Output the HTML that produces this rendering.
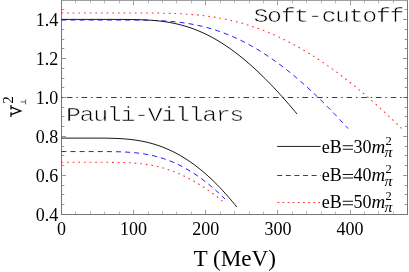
<!DOCTYPE html>
<html><head><meta charset="utf-8"><title>plot</title>
<style>
html,body{margin:0;padding:0;background:#fff;}
body{width:409px;height:272px;overflow:hidden;font-family:"Liberation Serif",serif;}
svg{display:block;will-change:transform;}
text{font-family:"Liberation Serif",serif;fill:#000;}
.mono{font-family:"Liberation Mono",monospace;}
</style></head><body>
<svg width="409" height="272" viewBox="0 0 409 272">
<rect x="0" y="0" width="409" height="272" fill="#fff"/>
<g stroke="#959595" stroke-width="1" fill="none">
<path stroke="#b4b4b4" d="M75.50,214.5 v-2.8 M75.50,0.5 v2.8"/>
<path stroke="#b4b4b4" d="M90.50,214.5 v-2.8 M90.50,0.5 v2.8"/>
<path stroke="#b4b4b4" d="M104.50,214.5 v-2.8 M104.50,0.5 v2.8"/>
<path stroke="#b4b4b4" d="M119.50,214.5 v-2.8 M119.50,0.5 v2.8"/>
<path stroke="#b4b4b4" d="M148.50,214.5 v-2.8 M148.50,0.5 v2.8"/>
<path stroke="#b4b4b4" d="M162.50,214.5 v-2.8 M162.50,0.5 v2.8"/>
<path stroke="#b4b4b4" d="M176.50,214.5 v-2.8 M176.50,0.5 v2.8"/>
<path stroke="#b4b4b4" d="M191.50,214.5 v-2.8 M191.50,0.5 v2.8"/>
<path stroke="#b4b4b4" d="M220.50,214.5 v-2.8 M220.50,0.5 v2.8"/>
<path stroke="#b4b4b4" d="M234.50,214.5 v-2.8 M234.50,0.5 v2.8"/>
<path stroke="#b4b4b4" d="M249.50,214.5 v-2.8 M249.50,0.5 v2.8"/>
<path stroke="#b4b4b4" d="M263.50,214.5 v-2.8 M263.50,0.5 v2.8"/>
<path stroke="#b4b4b4" d="M292.50,214.5 v-2.8 M292.50,0.5 v2.8"/>
<path stroke="#b4b4b4" d="M306.50,214.5 v-2.8 M306.50,0.5 v2.8"/>
<path stroke="#b4b4b4" d="M321.50,214.5 v-2.8 M321.50,0.5 v2.8"/>
<path stroke="#b4b4b4" d="M335.50,214.5 v-2.8 M335.50,0.5 v2.8"/>
<path stroke="#b4b4b4" d="M364.50,214.5 v-2.8 M364.50,0.5 v2.8"/>
<path stroke="#b4b4b4" d="M378.50,214.5 v-2.8 M378.50,0.5 v2.8"/>
<path stroke="#b4b4b4" d="M393.50,214.5 v-2.8 M393.50,0.5 v2.8"/>
<path d="M61.5,204.50 h2.8 M407.5,204.50 h-2.8"/>
<path d="M61.5,194.50 h2.8 M407.5,194.50 h-2.8"/>
<path d="M61.5,185.50 h2.8 M407.5,185.50 h-2.8"/>
<path d="M61.5,165.50 h2.8 M407.5,165.50 h-2.8"/>
<path d="M61.5,155.50 h2.8 M407.5,155.50 h-2.8"/>
<path d="M61.5,146.50 h2.8 M407.5,146.50 h-2.8"/>
<path d="M61.5,126.50 h2.8 M407.5,126.50 h-2.8"/>
<path d="M61.5,116.50 h2.8 M407.5,116.50 h-2.8"/>
<path d="M61.5,107.50 h2.8 M407.5,107.50 h-2.8"/>
<path d="M61.5,87.50 h2.8 M407.5,87.50 h-2.8"/>
<path d="M61.5,78.50 h2.8 M407.5,78.50 h-2.8"/>
<path d="M61.5,68.50 h2.8 M407.5,68.50 h-2.8"/>
<path d="M61.5,48.50 h2.8 M407.5,48.50 h-2.8"/>
<path d="M61.5,39.50 h2.8 M407.5,39.50 h-2.8"/>
<path d="M61.5,29.50 h2.8 M407.5,29.50 h-2.8"/>
<path d="M61.5,9.50 h2.8 M407.5,9.50 h-2.8"/>
</g>
<g stroke="#949494" stroke-width="1" fill="none">
<path stroke="#9c9c9c" d="M61.50,214.5 v-4.6 M61.50,0.5 v4.8"/>
<path stroke="#9c9c9c" d="M133.50,214.5 v-4.6 M133.50,0.5 v4.8"/>
<path stroke="#9c9c9c" d="M205.50,214.5 v-4.6 M205.50,0.5 v4.8"/>
<path stroke="#9c9c9c" d="M277.50,214.5 v-4.6 M277.50,0.5 v4.8"/>
<path stroke="#9c9c9c" d="M350.50,214.5 v-4.6 M350.50,0.5 v4.8"/>
<path d="M61.5,214.50 h4.5 M407.5,214.50 h-4.5"/>
<path d="M61.5,175.50 h4.5 M407.5,175.50 h-4.5"/>
<path d="M61.5,136.50 h4.5 M407.5,136.50 h-4.5"/>
<path d="M61.5,97.50 h4.5 M407.5,97.50 h-4.5"/>
<path d="M61.5,58.50 h4.5 M407.5,58.50 h-4.5"/>
<path d="M61.5,19.50 h4.5 M407.5,19.50 h-4.5"/>
</g>
<path d="M61.0,0.5 H408.0" fill="none" stroke="#a0a0a0" stroke-width="1"/>
<path d="M61.5,0.5 V215.0 M407.5,0.5 V215.0 M61.0,214.5 H408.0" fill="none" stroke="#787878" stroke-width="1"/>
<path d="M61.55,97.50 H407.5" stroke="#3c3c3c" stroke-width="1" fill="none" stroke-dasharray="1.5 3.86 5.5 3.86"/>
<path d="M61.4,12.94 L100.0,12.94 L103.0,12.94 L106.0,12.94 L109.0,12.94 L112.0,12.94 L115.0,12.94 L118.0,12.94 L121.0,12.94 L124.0,12.94 L127.0,12.95 L130.0,12.95 L133.0,12.95 L136.0,12.96 L139.0,12.96 L142.0,12.97 L145.0,12.98 L148.0,13.00 L151.0,13.02 L154.0,13.05 L157.0,13.09 L160.0,13.13 L163.0,13.19 L166.0,13.25 L169.0,13.33 L172.0,13.43 L175.0,13.54 L178.0,13.66 L181.0,13.81 L184.0,13.98 L187.0,14.17 L190.0,14.38 L193.0,14.62 L196.0,14.89 L199.0,15.18 L202.0,15.50 L205.0,15.86 L208.0,16.25 L211.0,16.67 L214.0,17.13 L217.0,17.62 L220.0,18.15 L223.0,18.72 L226.0,19.33 L229.0,19.97 L232.0,20.66 L235.0,21.39 L238.0,22.16 L241.0,22.98 L244.0,23.83 L247.0,24.73 L250.0,25.68 L253.0,26.67 L256.0,27.70 L259.0,28.78 L262.0,29.90 L265.0,31.07 L268.0,32.29 L271.0,33.55 L274.0,34.85 L277.0,36.20 L280.0,37.60 L283.0,39.04 L286.0,40.52 L289.0,42.05 L292.0,43.63 L295.0,45.25 L298.0,46.91 L301.0,48.62 L304.0,50.37 L307.0,52.17 L310.0,54.00 L313.0,55.88 L316.0,57.80 L319.0,59.77 L322.0,61.77 L325.0,63.82 L328.0,65.90 L331.0,68.03 L334.0,70.19 L337.0,72.40 L340.0,74.64 L343.0,76.92 L346.0,79.24 L349.0,81.60 L352.0,83.99 L355.0,86.42 L358.0,88.88 L361.0,91.38 L364.0,93.91 L367.0,96.48 L370.0,99.08 L373.0,101.72 L376.0,104.38 L379.0,107.08 L382.0,109.81 L385.0,112.57 L388.0,115.36 L391.0,118.19 L394.0,121.04 L397.0,123.92 L400.0,126.83 L401.6,128.44" fill="none" stroke="#ff3030" stroke-width="1.05" stroke-dasharray="1.7 3.951"/>
<path d="M61.4,20.03 L100.0,20.03 L103.0,20.03 L106.0,20.03 L109.0,20.03 L112.0,20.03 L115.0,20.03 L118.0,20.03 L121.0,20.03 L124.0,20.04 L127.0,20.04 L130.0,20.05 L133.0,20.07 L136.0,20.09 L139.0,20.12 L142.0,20.15 L145.0,20.20 L148.0,20.27 L151.0,20.34 L154.0,20.44 L157.0,20.55 L160.0,20.69 L163.0,20.85 L166.0,21.04 L169.0,21.26 L172.0,21.52 L175.0,21.80 L178.0,22.13 L181.0,22.49 L184.0,22.89 L187.0,23.34 L190.0,23.84 L193.0,24.38 L196.0,24.96 L199.0,25.60 L202.0,26.30 L205.0,27.04 L208.0,27.84 L211.0,28.69 L214.0,29.61 L217.0,30.57 L220.0,31.60 L223.0,32.69 L226.0,33.83 L229.0,35.03 L232.0,36.30 L235.0,37.62 L238.0,39.01 L241.0,40.45 L244.0,41.96 L247.0,43.53 L250.0,45.16 L253.0,46.84 L256.0,48.59 L259.0,50.40 L262.0,52.27 L265.0,54.19 L268.0,56.18 L271.0,58.22 L274.0,60.32 L277.0,62.48 L280.0,64.69 L283.0,66.96 L286.0,69.28 L289.0,71.66 L292.0,74.10 L295.0,76.58 L298.0,79.12 L301.0,81.71 L304.0,84.36 L307.0,87.05 L310.0,89.79 L313.0,92.58 L316.0,95.42 L319.0,98.30 L322.0,101.24 L325.0,104.21 L328.0,107.24 L331.0,110.30 L334.0,113.41 L337.0,116.57 L340.0,119.76 L343.0,123.00 L346.0,126.27 L348.1,128.59" fill="none" stroke="#2020ff" stroke-width="1.0" stroke-dasharray="5 4.1"/>
<path d="M61.4,19.40 L100.0,19.40 L103.0,19.40 L106.0,19.40 L109.0,19.40 L112.0,19.40 L115.0,19.41 L118.0,19.41 L121.0,19.42 L124.0,19.43 L127.0,19.46 L130.0,19.49 L133.0,19.53 L136.0,19.59 L139.0,19.67 L142.0,19.77 L145.0,19.90 L148.0,20.06 L151.0,20.25 L154.0,20.48 L157.0,20.76 L160.0,21.08 L163.0,21.45 L166.0,21.88 L169.0,22.37 L172.0,22.92 L175.0,23.53 L178.0,24.22 L181.0,24.97 L184.0,25.79 L187.0,26.69 L190.0,27.67 L193.0,28.73 L196.0,29.87 L199.0,31.09 L202.0,32.39 L205.0,33.77 L208.0,35.24 L211.0,36.79 L214.0,38.43 L217.0,40.15 L220.0,41.95 L223.0,43.84 L226.0,45.81 L229.0,47.86 L232.0,50.00 L235.0,52.22 L238.0,54.51 L241.0,56.88 L244.0,59.34 L247.0,61.86 L250.0,64.47 L253.0,67.15 L256.0,69.90 L259.0,72.72 L262.0,75.61 L265.0,78.57 L268.0,81.59 L271.0,84.68 L274.0,87.84 L277.0,91.05 L280.0,94.33 L283.0,97.67 L286.0,101.06 L289.0,104.51 L292.0,108.02 L295.0,111.58 L297.0,113.98" fill="none" stroke="#1a1a1a" stroke-width="1.0"/>
<path d="M61.4,162.33 L100.0,162.33 L103.0,162.33 L106.0,162.34 L109.0,162.35 L112.0,162.37 L115.0,162.39 L118.0,162.44 L121.0,162.50 L124.0,162.58 L127.0,162.69 L130.0,162.84 L133.0,163.02 L136.0,163.25 L139.0,163.53 L142.0,163.86 L145.0,164.24 L148.0,164.69 L151.0,165.21 L154.0,165.80 L157.0,166.46 L160.0,167.19 L163.0,168.01 L166.0,168.90 L169.0,169.88 L172.0,170.94 L175.0,172.08 L178.0,173.31 L181.0,174.62 L184.0,176.02 L187.0,177.50 L190.0,179.06 L193.0,180.71 L196.0,182.44 L199.0,184.25 L202.0,186.15 L205.0,188.12 L208.0,190.17 L211.0,192.30 L214.0,194.50 L217.0,196.78 L220.0,199.13 L222.5,201.14" fill="none" stroke="#ff3030" stroke-width="1.05" stroke-dasharray="1.7 3.932"/>
<path d="M61.4,151.56 L100.0,151.57 L103.0,151.58 L106.0,151.59 L109.0,151.61 L112.0,151.64 L115.0,151.69 L118.0,151.76 L121.0,151.85 L124.0,151.97 L127.0,152.13 L130.0,152.32 L133.0,152.56 L136.0,152.85 L139.0,153.20 L142.0,153.60 L145.0,154.07 L148.0,154.60 L151.0,155.21 L154.0,155.90 L157.0,156.66 L160.0,157.51 L163.0,158.44 L166.0,159.46 L169.0,160.57 L172.0,161.77 L175.0,163.06 L178.0,164.45 L181.0,165.93 L184.0,167.51 L187.0,169.19 L190.0,170.97 L193.0,172.85 L196.0,174.82 L199.0,176.90 L202.0,179.07 L205.0,181.34 L208.0,183.72 L211.0,186.19 L214.0,188.76 L217.0,191.43 L220.0,194.19 L223.0,197.05 L225.0,199.02" fill="none" stroke="#2020ff" stroke-width="1.0" stroke-dasharray="5 4.1"/>
<path d="M61.4,138.10 L100.0,138.12 L103.0,138.14 L106.0,138.17 L109.0,138.22 L112.0,138.29 L115.0,138.39 L118.0,138.51 L121.0,138.67 L124.0,138.87 L127.0,139.12 L130.0,139.42 L133.0,139.77 L136.0,140.18 L139.0,140.66 L142.0,141.20 L145.0,141.82 L148.0,142.51 L151.0,143.29 L154.0,144.14 L157.0,145.08 L160.0,146.11 L163.0,147.23 L166.0,148.44 L169.0,149.75 L172.0,151.15 L175.0,152.65 L178.0,154.26 L181.0,155.96 L184.0,157.77 L187.0,159.67 L190.0,161.69 L193.0,163.81 L196.0,166.03 L199.0,168.36 L202.0,170.80 L205.0,173.35 L208.0,176.01 L211.0,178.77 L214.0,181.64 L217.0,184.62 L220.0,187.71 L223.0,190.91 L226.0,194.22 L229.0,197.63 L232.0,201.16 L235.0,204.80 L236.8,207.03" fill="none" stroke="#1a1a1a" stroke-width="1.0"/>
<path d="M277.1,146.45 H320.6" fill="none" stroke="#1a1a1a" stroke-width="0.95"/>
<path d="M277.2,175.5 H320.6" fill="none" stroke="#2020ff" stroke-width="0.95" stroke-dasharray="5 3.6"/>
<path d="M277.5,202.5 H320.2" fill="none" stroke="#ff3030" stroke-width="1.05" stroke-dasharray="1.7 3.4"/>
<text x="321.8" y="152.5" font-size="18">eB</text>
<path d="M342.7,145.65 H353 M342.7,149.15 H353" stroke="#111" stroke-width="1.05" fill="none"/>
<text x="353.4" y="152.5" font-size="18">30</text>
<text x="371.5" y="152.5" font-size="19" font-style="italic">m</text>
<text x="385.6" y="144.50" font-size="12.5">2</text>
<text x="0" y="0" font-size="14" font-style="italic" transform="translate(384.5,156.70) scale(1.13,1)">π</text>
<text x="321.8" y="181.4" font-size="18">eB</text>
<path d="M342.7,174.55 H353 M342.7,178.05 H353" stroke="#111" stroke-width="1.05" fill="none"/>
<text x="353.4" y="181.4" font-size="18">40</text>
<text x="371.5" y="181.4" font-size="19" font-style="italic">m</text>
<text x="385.6" y="173.40" font-size="12.5">2</text>
<text x="0" y="0" font-size="14" font-style="italic" transform="translate(384.5,185.60) scale(1.13,1)">π</text>
<text x="321.8" y="208.1" font-size="18">eB</text>
<path d="M342.7,201.25 H353 M342.7,204.75 H353" stroke="#111" stroke-width="1.05" fill="none"/>
<text x="353.4" y="208.1" font-size="18">50</text>
<text x="371.5" y="208.1" font-size="19" font-style="italic">m</text>
<text x="385.6" y="200.10" font-size="12.5">2</text>
<text x="0" y="0" font-size="14" font-style="italic" transform="translate(384.5,212.30) scale(1.13,1)">π</text>
<text x="61.40" y="234.6" font-size="18" text-anchor="middle">0</text>
<text x="133.57" y="234.6" font-size="18" text-anchor="middle">100</text>
<text x="205.74" y="234.6" font-size="18" text-anchor="middle">200</text>
<text x="277.91" y="234.6" font-size="18" text-anchor="middle">300</text>
<text x="350.08" y="234.6" font-size="18" text-anchor="middle">400</text>
<text x="58.2" y="220.65" font-size="18" text-anchor="end">0.4</text>
<text x="58.2" y="181.70" font-size="18" text-anchor="end">0.6</text>
<text x="58.2" y="142.75" font-size="18" text-anchor="end">0.8</text>
<text x="58.2" y="103.80" font-size="18" text-anchor="end">1.0</text>
<text x="58.2" y="64.85" font-size="18" text-anchor="end">1.2</text>
<text x="58.2" y="25.90" font-size="18" text-anchor="end">1.4</text>
<text x="234.7" y="265.6" font-size="23.2" text-anchor="middle">T (MeV)</text>
<g transform="translate(21,116.9) rotate(-90)" stroke="#000" stroke-width="1.25" fill="none" stroke-linecap="butt">
<path d="M0,-10 H4.6 M7.3,-10 H11.9 M2.2,-10 L5.95,-0.2 L9.7,-10"/>
</g>
<text x="0" y="0" font-size="15" fill="#222" transform="translate(12.5,103.8) rotate(-90)">2</text>
<path d="M25.6,99.4 V104.4 M20.6,101.9 H25.6" stroke="#3a3a3a" stroke-width="0.8" fill="none"/>
<text class="mono" x="0" y="0" font-size="25" letter-spacing="-1.38" transform="translate(253.4,22.1) scale(1,0.78)" fill="#000" stroke="#fff" stroke-width="0.7">Soft-cutoff</text>
<text class="mono" x="0" y="0" font-size="25" letter-spacing="-1.38" transform="translate(66.0,121.1) scale(1,0.78)" fill="#000" stroke="#fff" stroke-width="0.7">Pauli-Villars</text>
</svg></body></html>
